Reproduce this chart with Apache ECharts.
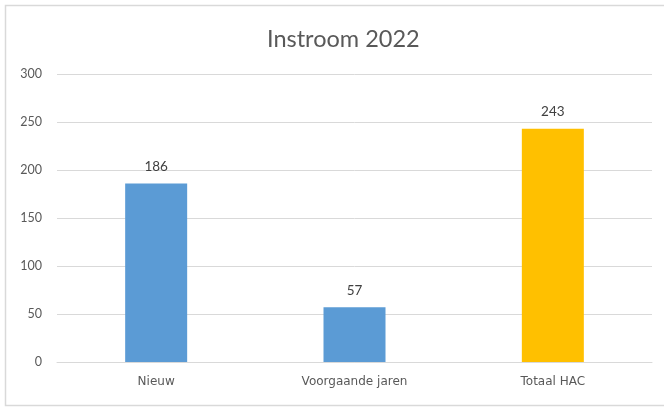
<!DOCTYPE html>
<html><head><meta charset="utf-8">
<script src="https://cdn.jsdelivr.net/npm/echarts@6/dist/echarts.min.js"></script>
<style>html,body{margin:0;padding:0;background:#fff}#c{width:664px;height:408px}</style>
</head><body><div id="c"></div>
<script>
const categories = ['Nieuw', 'Voorgaande jaren', 'Totaal HAC'];
const values = [186, 57, 243];
const barColors = ['#5B9BD5', '#5B9BD5', '#FFC000'];
const yTicks = {min: 0, max: 300, interval: 50};

const chart = echarts.init(document.getElementById('c'));
chart.setOption({
  animation: false,
  backgroundColor: '#fff',
  graphic: [{type: 'rect', shape: {x: 5.5, y: 5.5, width: 700, height: 400},
    style: {fill: 'none', stroke: '#d9d9d9', lineWidth: 1.5}}],
  title: {text: 'Instroom 2022', left: 262, top: 22,
    textStyle: {fontFamily: 'Lato', fontSize: 23.5, fontWeight: 'normal', color: '#595959'}},
  grid: {left: 57, right: 12, top: 74, bottom: 46},
  xAxis: {type: 'category', data: categories,
    axisLine: {lineStyle: {color: '#d9d9d9'}}, axisTick: {show: false},
    axisLabel: {fontFamily: 'DejaVu Sans', fontSize: 12, color: '#595959', margin: 14}},
  yAxis: {type: 'value', min: yTicks.min, max: yTicks.max, interval: yTicks.interval,
    axisLine: {show: false}, axisTick: {show: false},
    splitLine: {lineStyle: {color: '#d9d9d9'}},
    axisLabel: {fontFamily: 'Lato', fontSize: 12.5, color: '#595959', margin: 15}},
  series: [{type: 'bar', barWidth: 62,
    data: values.map((v, i) => ({value: v, itemStyle: {color: barColors[i]}})),
    label: {show: true, position: 'top', distance: 10, fontFamily: 'Lato', fontSize: 13.5, color: '#404040'}}]
});
</script></body></html>
